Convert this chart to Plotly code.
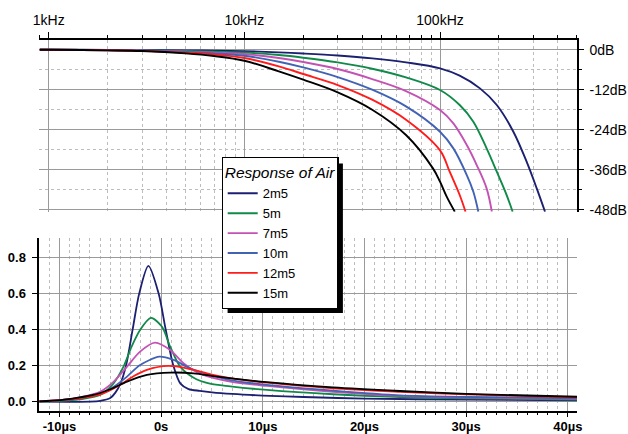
import plotly.graph_objects as go

# ---------------- data: frequency response (kHz, dB) ----------------
names = ["2m5", "5m", "7m5", "10m", "12m5", "15m"]
colors = ["#1c2070", "#108a48", "#c452b4", "#4262b4", "#ff1c1c", "#000000"]

f_2m5 = [0.9, 1, 2, 3, 5, 7, 10, 15, 20, 30, 45, 67, 100, 126, 160, 195, 237, 277, 312, 344]
db_2m5 = [0, 0, -0.05, -0.1, -0.2, -0.3, -0.45, -0.8, -1.15, -1.75, -2.6, -3.8, -5.6, -7.8, -11.6, -16.6, -24.6, -33.6, -41.6, -48.6]

f_5m = [0.9, 1, 2, 3, 5, 7, 10, 15, 20, 30, 45, 67, 100, 126, 148, 173, 195, 219, 235]
db_5m = [0, 0, -0.1, -0.2, -0.4, -0.6, -0.85, -1.6, -2.4, -3.8, -5.7, -8.3, -12.1, -16.6, -21.6, -29.6, -36.6, -43.6, -48.6]

f_7m5 = [0.9, 1, 2, 3, 5, 7, 10, 15, 20, 30, 45, 67, 100, 117, 137, 154, 173, 184]
db_7m5 = [0, 0, -0.1, -0.25, -0.6, -0.9, -1.3, -2.5, -3.7, -5.8, -8.8, -12.4, -18.1, -22.1, -28.6, -34.6, -41.6, -48.6]

f_10m = [0.9, 1, 2, 3, 5, 7, 10, 15, 20, 30, 45, 67, 100, 117, 137, 148, 157]
db_10m = [0, 0, -0.15, -0.3, -0.7, -1.1, -1.8, -3.6, -5.3, -8.2, -12.0, -17.0, -24.6, -29.6, -37.6, -42.6, -48.6]

f_12m5 = [0.9, 1, 2, 3, 5, 7, 10, 15, 20, 30, 45, 67, 100, 112, 126, 135]
db_12m5 = [0, 0, -0.2, -0.35, -0.9, -1.4, -2.5, -5.0, -7.3, -10.6, -15.0, -21.0, -30.2, -36.6, -43.6, -48.6]

f_15m = [0.9, 1, 2, 3, 5, 7, 10, 15, 20, 30, 45, 67, 92, 100, 108, 119]
db_15m = [0, 0, -0.2, -0.4, -1.1, -1.9, -3.3, -6.5, -9.0, -12.8, -18.0, -25.6, -35.6, -39.6, -44.0, -48.6]

# ---------------- data: impulse response (µs, amplitude) ----------------
t_2m5 = [-12, -7, -6, -5, -4.5, -4.0, -3.45, -2.8, -2.15, -1.25, -0.25, 0.45, 1.2, 1.9, 2.7, 3.8, 5, 7, 10, 14, 20, 30, 41]
v_2m5 = [0, 0, 0.004, 0.02, 0.05, 0.1, 0.2, 0.4, 0.6, 0.752, 0.6, 0.4, 0.2, 0.1, 0.07, 0.06, 0.052, 0.043, 0.034, 0.026, 0.017, 0.011, 0.007]

t_5m = [-12, -9.9, -8, -6, -4.7, -3.7, -2.9, -2.07, -1.0, 0.07, 0.89, 1.87, 3.2, 4.8, 6.8, 10.4, 16.9, 23.5, 30, 41]
v_5m = [0.001, 0.004, 0.013, 0.037, 0.10, 0.194, 0.305, 0.397, 0.464, 0.416, 0.305, 0.194, 0.133, 0.1, 0.085, 0.065, 0.041, 0.026, 0.018, 0.012]

t_7m5 = [-12, -9.9, -8, -6, -4.66, -3.35, -2.07, -0.6, 0.89, 2.2, 3.84, 6.8, 10.4, 16.9, 23.5, 30, 41]
v_7m5 = [0.002, 0.009, 0.024, 0.055, 0.111, 0.194, 0.277, 0.327, 0.286, 0.213, 0.155, 0.111, 0.087, 0.055, 0.032, 0.023, 0.016]

t_10m = [-12, -9.9, -8, -6, -4.66, -3.35, -2.07, -0.17, 1.21, 2.85, 4.8, 6.8, 10.4, 16.9, 23.5, 30, 41]
v_10m = [0.002, 0.009, 0.019, 0.043, 0.083, 0.139, 0.203, 0.249, 0.231, 0.185, 0.148, 0.12, 0.093, 0.061, 0.035, 0.026, 0.019]

t_12m5 = [-12, -9.9, -8, -5.68, -4.04, -2.76, -1.4, 0.72, 2.53, 4.5, 6.8, 10.4, 16.9, 23.5, 30, 41]
v_12m5 = [0.002, 0.009, 0.019, 0.046, 0.093, 0.139, 0.176, 0.198, 0.185, 0.157, 0.13, 0.105, 0.074, 0.055, 0.04, 0.024]

t_15m = [-12, -9.9, -8.7, -6.7, -5, -3.35, -1.4, 0.89, 3.2, 5.5, 10.4, 16.9, 23.5, 30, 41]
v_15m = [0.002, 0.009, 0.017, 0.037, 0.069, 0.111, 0.148, 0.161, 0.157, 0.139, 0.108, 0.079, 0.059, 0.043, 0.027]

freq_sets = [(f_2m5, db_2m5), (f_5m, db_5m), (f_7m5, db_7m5), (f_10m, db_10m), (f_12m5, db_12m5), (f_15m, db_15m)]
imp_sets = [(t_2m5, v_2m5), (t_5m, v_5m), (t_7m5, v_7m5), (t_10m, v_10m), (t_12m5, v_12m5), (t_15m, v_15m)]

freq_ticks = [1000, 10000, 100000]
freq_labels = ["1kHz", "10kHz", "100kHz"]
db_ticks = [0, -12, -24, -36, -48]
db_labels = ["0dB", "-12dB", "-24dB", "-36dB", "-48dB"]
time_ticks = [-10, 0, 10, 20, 30, 40]
time_labels = ["-10µs", "0s", "10µs", "20µs", "30µs", "40µs"]
amp_ticks = [0, 0.2, 0.4, 0.6, 0.8]
amp_labels = ["0.0", "0.2", "0.4", "0.6", "0.8"]

FONT = "Liberation Sans, Arial, sans-serif"
W, H = 628, 434

fig = go.Figure()
for name, col, (f, db) in zip(names, colors, freq_sets):
    fig.add_trace(go.Scatter(x=[v * 1000 for v in f], y=db, mode="lines", name=name,
                             line=dict(color=col, width=1.9, shape="spline", smoothing=1.0),
                             xaxis="x", yaxis="y"))
for name, col, (t, v) in zip(names, colors, imp_sets):
    fig.add_trace(go.Scatter(x=t, y=v, mode="lines", name=name, showlegend=False,
                             line=dict(color=col, width=1.8, shape="spline", smoothing=0.8),
                             xaxis="x2", yaxis="y2"))

minor_f = [900] + [m * 10 ** e for e in (3, 4, 5) for m in range(2, 10) if m * 10 ** e <= 500000]

xl, xr = 39.3 / W, 577 / W
grid_major = "#9a9a9a"
grid_minor = "#bdbdbd"

fig.update_layout(
    template="none",
    width=W, height=H, margin=dict(l=0, r=0, t=0, b=0, pad=0), autosize=False,
    paper_bgcolor="white", plot_bgcolor="white",
    font=dict(family=FONT, color="black"),
    xaxis=dict(type="log", domain=[xl, xr], range=[2.952, 5.70], side="top", anchor="y",
               automargin=False,
               showline=True, linecolor="black", linewidth=1.5,
               ticks="outside", ticklen=6, tickwidth=1.3, tickcolor="black",
               tickmode="array", tickvals=freq_ticks, ticktext=freq_labels,
               tickfont=dict(size=14), ticklabelstandoff=1,
               showgrid=True, gridcolor=grid_major, gridwidth=1.3, zeroline=False,
               minor=dict(tickmode="array", tickvals=minor_f, ticks="outside", ticklen=3,
                          tickcolor="black", tickwidth=1, showgrid=True, gridcolor=grid_minor,
                          griddash="dot", gridwidth=1)),
    yaxis=dict(domain=[1 - 211.7 / H, 1 - 39.7 / H], range=[-48.6, 3.0], side="right", anchor="x",
               automargin=False,
               showline=True, linecolor="black", linewidth=1.5,
               ticks="outside", ticklen=5, tickwidth=1.3, tickcolor="black",
               tickmode="array", tickvals=db_ticks, ticktext=db_labels,
               tickfont=dict(size=14), ticklabelstandoff=3,
               showgrid=True, gridcolor=grid_major, gridwidth=1.3, zeroline=False,
               minor=dict(tickmode="array", tickvals=[-6, -18, -30, -42], ticks="outside", ticklen=3,
                          tickcolor="black", showgrid=True, gridcolor=grid_minor,
                          griddash="dot", gridwidth=1)),
    xaxis2=dict(domain=[xl, xr], range=[-11.98, 40.9], side="bottom", anchor="y2",
                automargin=False,
                showline=True, linecolor="black", linewidth=1.5,
                ticks="outside", ticklen=5, tickwidth=1.3, tickcolor="black",
                tickmode="array", tickvals=time_ticks, ticktext=time_labels,
                tickfont=dict(size=13, weight="bold"), ticklabelstandoff=-2,
                showgrid=True, gridcolor=grid_major, gridwidth=1.3, zeroline=False,
                minor=dict(dtick=1, tick0=0, ticks="outside", ticklen=3, tickcolor="black",
                           showgrid=True, gridcolor=grid_minor, griddash="dot", gridwidth=1)),
    yaxis2=dict(domain=[1 - 410.7 / H, 1 - 238.3 / H], range=[-0.05, 0.905], side="left", anchor="x2",
                automargin=False,
                showline=True, linecolor="black", linewidth=1.5,
                ticks="outside", ticklen=6, tickwidth=1.3, tickcolor="black",
                tickmode="array", tickvals=amp_ticks, ticktext=amp_labels,
                tickfont=dict(size=13, weight="bold"), ticklabelstandoff=3,
                showgrid=True, gridcolor=grid_major, gridwidth=1.3, zeroline=False),
    legend=dict(x=221.5 / W, y=1 - 157 / H, xanchor="left", yanchor="top",
                bgcolor="white", bordercolor="black", borderwidth=1.2,
                font=dict(size=13, family=FONT), tracegroupgap=0, itemwidth=30,
                title=dict(text="Response of Air", font=dict(size=15.5, style="italic", family=FONT))),
    showlegend=True,
)

# legend drop shadow (position refined after render to follow the legend box)
fig.add_shape(type="rect", xref="paper", yref="paper",
              x0=227 / W, x1=342 / W, y0=1 - 312 / H, y1=1 - 163 / H,
              fillcolor="black", line=dict(width=0), layer="above")

post = """
document.body.style.margin='0';
var gd = document.getElementById('{plot_id}');
var bg = gd.querySelector('g.legend rect.bg');
if (bg) {
  var r = bg.getBoundingClientRect();
  var g = gd.getBoundingClientRect();
  var L = r.left - g.left, T = r.top - g.top, R = r.right - g.left, B = r.bottom - g.top;
  return Plotly.relayout(gd, {'shapes[0].x0': (L + 5.5) / 628, 'shapes[0].x1': (R + 5) / 628,
                              'shapes[0].y0': 1 - (B + 4.5) / 434, 'shapes[0].y1': 1 - (T + 6) / 434});
}
"""

fig.write_html("out.html", config={"displayModeBar": False}, post_script=post)
